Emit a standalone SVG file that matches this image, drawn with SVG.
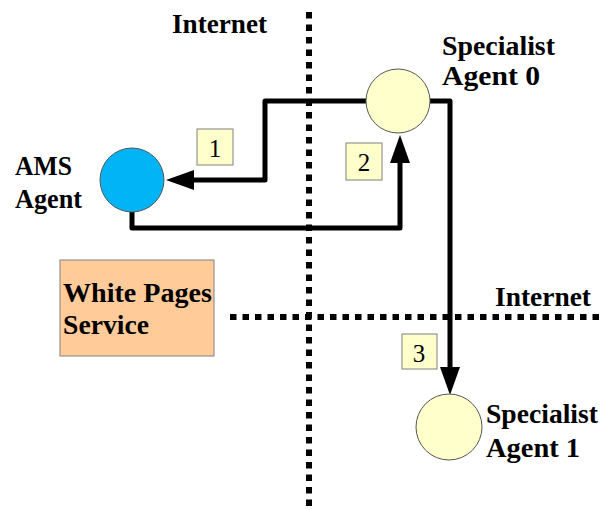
<svg xmlns="http://www.w3.org/2000/svg" width="601" height="510" viewBox="0 0 601 510">
<style>
.lbl{font-family:"Liberation Serif","Times New Roman",serif;font-weight:bold;font-size:27px;fill:#000}
.num{font-family:"Liberation Serif","Times New Roman",serif;font-size:25px;fill:#000;text-anchor:middle}
.div{stroke:#000;stroke-width:6;stroke-dasharray:6.5 6;fill:none}
.conn{stroke:#000;stroke-width:5;fill:none;stroke-linejoin:round}
.box{fill:#FFFFCC;stroke:#808080;stroke-width:1}
.agent{fill:#FFFFCC;stroke:#555;stroke-width:1}
</style>
<defs>
<marker id="ah" markerUnits="userSpaceOnUse" markerWidth="30" markerHeight="22" refX="0" refY="10" orient="auto" viewBox="0 0 30 22">
<path d="M0,0 L28,10 L0,20 z" fill="#000"/>
</marker>
</defs>
<rect width="601" height="510" fill="#fff"/>
<g id="dividers">
<line class="div" x1="309" y1="12" x2="309" y2="506"/>
<line class="div" x1="230" y1="317" x2="601" y2="317"/>
<text class="lbl" x="172" y="33" textLength="95" lengthAdjust="spacingAndGlyphs">Internet</text>
<text class="lbl" x="495" y="306" textLength="96" lengthAdjust="spacingAndGlyphs">Internet</text>
</g>
<g id="connectors">
<path class="conn" d="M366,101 H265 V180 H194" marker-end="url(#ah)"/>
<path class="conn" d="M132,212 V228 H400 V163" marker-end="url(#ah)"/>
<path class="conn" d="M430,101 H450 V367" marker-end="url(#ah)"/>
</g>
<g id="label1"><rect class="box" x="197" y="129" width="36" height="36"/><text class="num" x="215" y="157">1</text></g>
<g id="label2"><rect class="box" x="346" y="143" width="36" height="37"/><text class="num" x="364" y="171">2</text></g>
<g id="label3"><rect class="box" x="402" y="334" width="35" height="35"/><text class="num" x="419" y="362">3</text></g>
<g id="ams">
<circle cx="132" cy="180" r="32" fill="#00B4F5" stroke="#555" stroke-width="1"/>
<text class="lbl" x="15" y="175" textLength="57" lengthAdjust="spacingAndGlyphs">AMS</text>
<text class="lbl" x="15" y="208" textLength="67" lengthAdjust="spacingAndGlyphs">Agent</text>
</g>
<g id="agent0">
<circle class="agent" cx="398" cy="101" r="32"/>
<text class="lbl" x="442" y="55" textLength="113" lengthAdjust="spacingAndGlyphs">Specialist</text>
<text class="lbl" x="442" y="85" textLength="98" lengthAdjust="spacingAndGlyphs">Agent 0</text>
</g>
<g id="agent1">
<circle class="agent" cx="449" cy="427" r="33"/>
<text class="lbl" x="486" y="423" textLength="112" lengthAdjust="spacingAndGlyphs">Specialist</text>
<text class="lbl" x="486" y="457" textLength="94" lengthAdjust="spacingAndGlyphs">Agent 1</text>
</g>
<g id="whitepages">
<rect x="60" y="260" width="154" height="96" fill="#FFCC99" stroke="#808080" stroke-width="1"/>
<text class="lbl" x="63" y="302" textLength="149" lengthAdjust="spacingAndGlyphs">White Pages</text>
<text class="lbl" x="63" y="334" textLength="86" lengthAdjust="spacingAndGlyphs">Service</text>
</g>
</svg>
